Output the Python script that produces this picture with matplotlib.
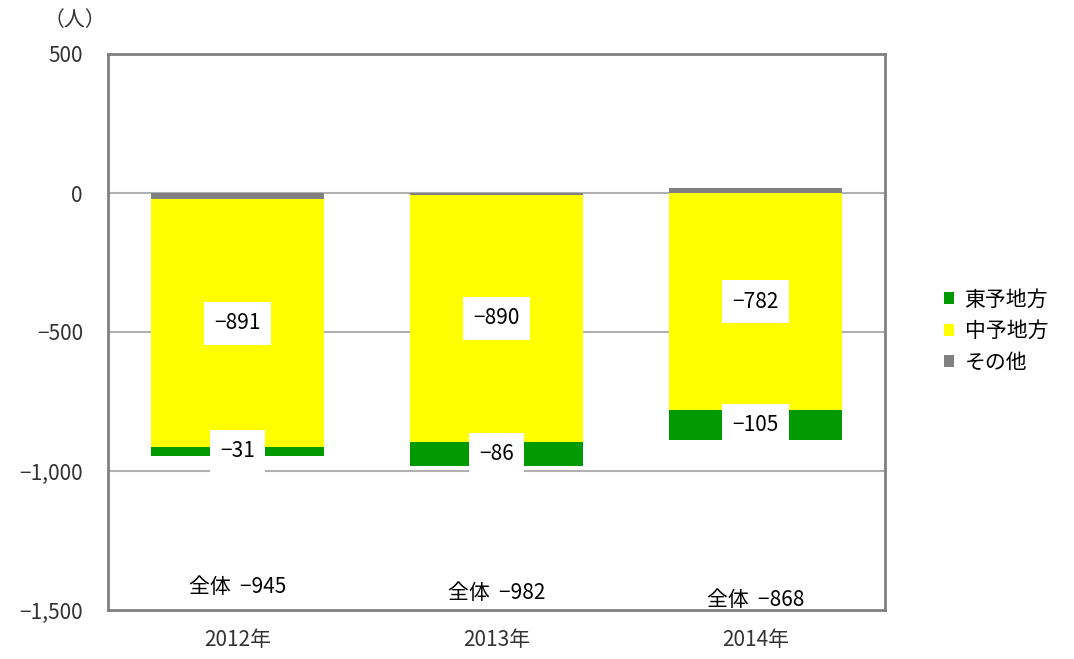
import numpy as np
import matplotlib
matplotlib.use("Agg")
import matplotlib.pyplot as plt

plt.rcParams['font.family'] = ['Noto Sans CJK JP', 'DejaVu Sans']

years = ["2012年", "2013年", "2014年"]
toyo = [-31, -86, -105]      # 東予地方
chuyo = [-891, -890, -782]   # 中予地方
other = [-23, -6, 19]        # その他
total = [-945, -982, -868]

yticks = [500, 0, -500, -1000, -1500]
ytick_labels = ["500", "0", "\u2212500", "\u22121,000", "\u22121,500"]

c_toyo = "#009900"
c_chuyo = "#ffff00"
c_other = "#808080"

fig = plt.figure(figsize=(10.74, 6.59), dpi=100)
ax = fig.add_axes([108 / 1074, 1 - 610 / 659, 777 / 1074, 556 / 659])

x = np.arange(len(years))
w = 0.67

other = np.array(other)
chuyo = np.array(chuyo)
toyo = np.array(toyo)

# その他 sits next to zero, then 中予, then 東予
other_base = np.zeros(3)
chuyo_base = np.minimum(other, 0)
toyo_base = chuyo_base + chuyo

ax.bar(x, other, w, bottom=other_base, color=c_other, label="その他", zorder=3)
ax.bar(x, chuyo, w, bottom=chuyo_base, color=c_chuyo, label="中予地方", zorder=3)
ax.bar(x, toyo, w, bottom=toyo_base, color=c_toyo, label="東予地方", zorder=3)

fs = 15
box = dict(boxstyle="square,pad=0.5", fc="white", ec="none")
for i in range(3):
    ax.text(x[i], chuyo_base[i] + chuyo[i] / 2, f"\u2212{abs(chuyo[i])}",
            ha="center", va="center", fontsize=fs, bbox=box, zorder=5)
    ax.text(x[i], toyo_base[i] + toyo[i] / 2, f"\u2212{abs(toyo[i])}",
            ha="center", va="center", fontsize=fs, bbox=box, zorder=5)
    ax.text(x[i], [-1418, -1440, -1465][i], f"全体  \u2212{abs(total[i])}",
            ha="center", va="center", fontsize=fs, zorder=5)

ax.set_ylim(-1500, 500)
ax.set_xlim(-0.5, 2.5)
ax.set_yticks(yticks)
ax.set_yticklabels(ytick_labels, fontsize=fs, color="#333333")
ax.set_xticks(x)
ax.set_xticklabels(years, fontsize=fs, color="#333333")
ax.tick_params(axis="y", length=0, pad=18)
ax.tick_params(axis="x", length=0, pad=14)

for yv in [0, -500, -1000]:
    ax.axhline(yv, color="#b0b0b0", lw=1.5, zorder=1)

for s in ax.spines.values():
    s.set_color("#808080")
    s.set_linewidth(2)

ax.text(75 / 1074, 1 - 20 / 659, "（人）", transform=fig.transFigure, fontsize=fs,
        color="#333333", ha="center", va="center")

handles, labels = ax.get_legend_handles_labels()
order = [2, 1, 0]
fig.legend([handles[i] for i in order], [labels[i] for i in order],
           loc="center left", bbox_to_anchor=(925 / 1074, 1 - 331 / 659),
           frameon=False, fontsize=fs, handlelength=0.5, handleheight=0.5,
           handletextpad=0.5, labelspacing=0.45)

fig.savefig("out.png", dpi=100)
